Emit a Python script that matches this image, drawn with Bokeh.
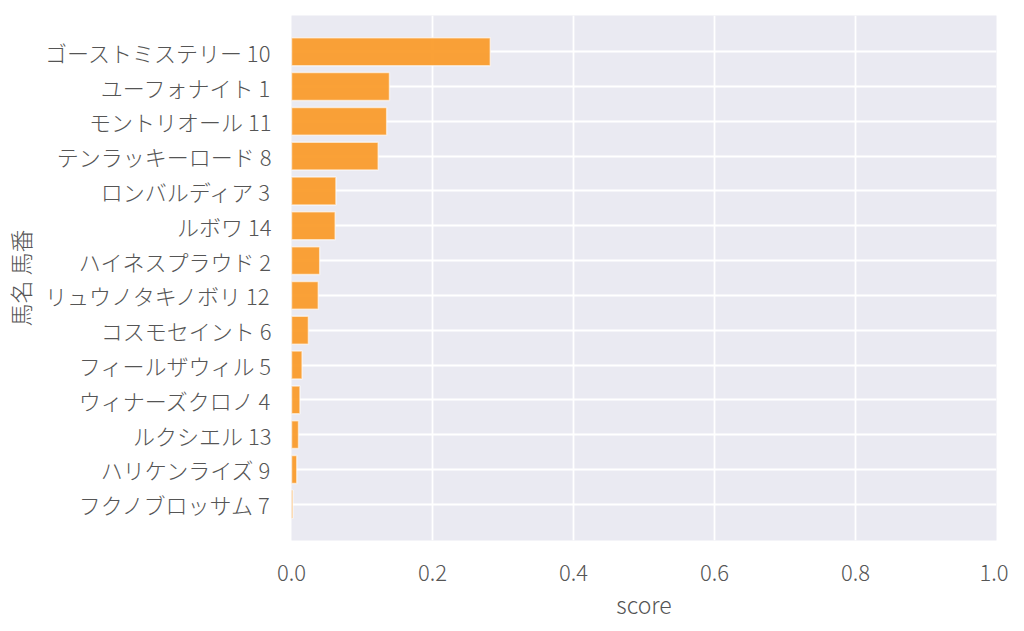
from bokeh.plotting import figure
from bokeh.models import FactorRange, Range1d, FixedTicker
from bokeh.embed import file_html
from bokeh.resources import INLINE

horses = ["ゴーストミステリー 10", "ユーフォナイト 1", "モントリオール 11", "テンラッキーロード 8",
          "ロンバルディア 3", "ルボワ 14", "ハイネスプラウド 2", "リュウノタキノボリ 12",
          "コスモセイント 6", "フィールザウィル 5", "ウィナーズクロノ 4", "ルクシエル 13",
          "ハリケンライズ 9", "フクノブロッサム 7"]
scores = [0.282, 0.139, 0.135, 0.123, 0.063, 0.062, 0.040, 0.038, 0.024, 0.015, 0.012, 0.010, 0.0075, 0.002]
x_ticks = [0.0, 0.2, 0.4, 0.6, 0.8, 1.0]

FONT = "Noto Sans CJK JP Light, Noto Sans CJK JP"
TXT = "#555555"

p = figure(width=1008, height=623, output_backend="svg", toolbar_location=None,
           y_range=FactorRange(factors=list(reversed(horses)), range_padding=0.54,
                               range_padding_units="absolute"),
           x_range=Range1d(0, 1.0),
           min_border_left=291, min_border_right=12, min_border_top=15, min_border_bottom=83)

p.hbar(y=horses, right=scores, left=0, height=0.8, fill_color="#FA9C2C", fill_alpha=0.95,
       line_color="white", line_alpha=0.6, line_width=1.5)

p.background_fill_color = "#EAEAF2"
p.border_fill_color = "white"
p.outline_line_color = None
p.grid.grid_line_color = "white"
p.grid.grid_line_width = 1.8
p.xaxis.ticker = FixedTicker(ticks=x_ticks)
p.xaxis.major_label_overrides = {t: f"{t:.1f}" for t in x_ticks}
p.xaxis.axis_label = "score"
p.yaxis.axis_label = "馬名 馬番"
for ax in (p.xaxis, p.yaxis):
    ax.axis_line_color = None
    ax.major_tick_line_color = None
    ax.minor_tick_line_color = None
    ax.major_label_text_font = FONT
    ax.major_label_text_font_size = "22px"
    ax.major_label_text_color = TXT
    ax.axis_label_text_font = FONT
    ax.axis_label_text_font_size = "23px"
    ax.axis_label_text_color = TXT
    ax.axis_label_text_font_style = "normal"
p.yaxis.major_label_standoff = 14
p.xaxis.major_label_standoff = 18
p.yaxis.axis_label_standoff = 5
p.xaxis.axis_label_standoff = 3

open("out.html", "w").write(file_html(p, INLINE))
